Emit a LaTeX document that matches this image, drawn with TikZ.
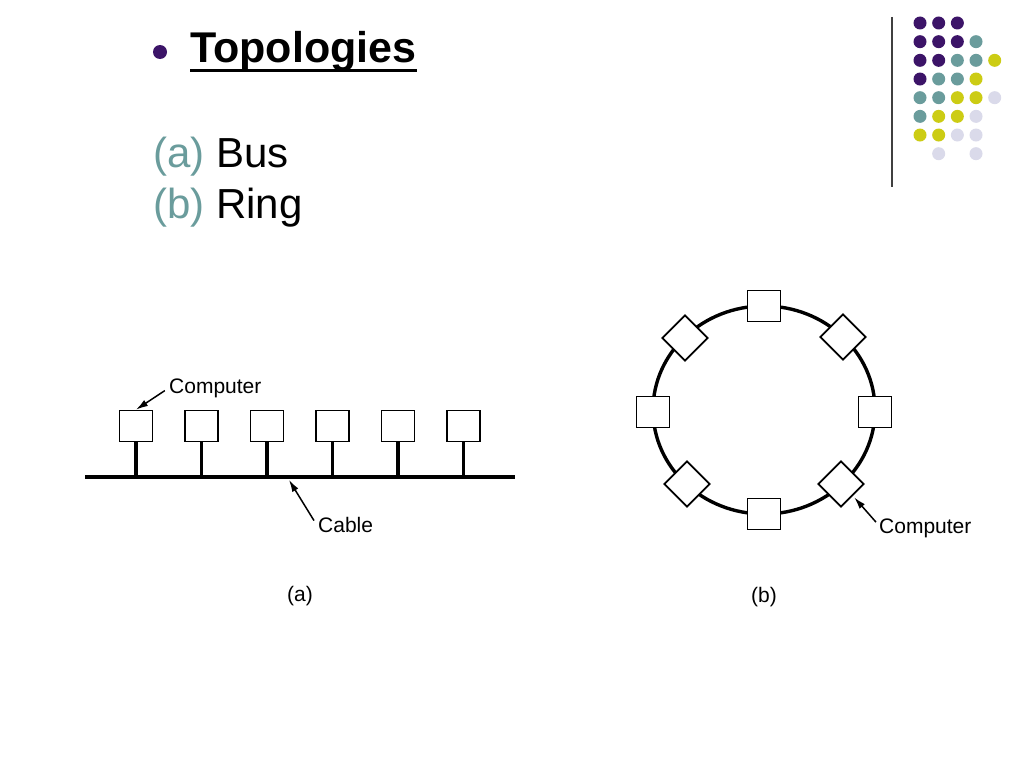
\documentclass[tikz,border=0pt]{standalone}
\usepackage{fontspec}
\setmainfont{Liberation Sans}
\usetikzlibrary{positioning,arrows.meta}

\definecolor{dpurple}{HTML}{3C1468}
\definecolor{dteal}{HTML}{6A9C9C}
\definecolor{dyellow}{HTML}{CCCC14}
\definecolor{dlav}{HTML}{DADAEA}

\tikzset{
  comp/.style={draw, fill=white, line width=1.7pt, minimum width=33pt,
               minimum height=31pt, inner sep=0pt},
  diam/.style={comp, rotate=45, minimum width=32pt, minimum height=32pt},
  wire/.style={line width=3.4pt},
  tag/.style={font=\fontsize{21}{25}\selectfont, inner sep=0pt},
  ptr/.style={-{Latex[length=12pt,width=7pt]}, line width=1.5pt},
  big/.style={font=\fontsize{42}{50}\selectfont, inner sep=0pt}
}

\begin{document}
\begin{tikzpicture}[x=1pt, y=-1pt]

  \useasboundingbox (0,0) rectangle (1024,768);
  \fill[white] (0,0) rectangle (1024,768);

  % Title and items
  \fill[dpurple] (160,52) circle (7pt);
  \node[big, anchor=base west, font=\fontsize{43}{50}\bfseries] (ttl) at (190,63) {Topologies};
  \draw[line width=3pt] ([yshift=-7pt]ttl.base west) -- ([yshift=-7pt]ttl.base east);
  \node[big, anchor=base west] (ia) at (153,167) {\textcolor{dteal}{(a)} Bus};
  \node[big, anchor=base west] (ib) at (153,218) {\textcolor{dteal}{(b)} Ring};

  % Corner dots
  \draw[line width=1.3pt, black!75] (892,17) -- (892,187);
  \foreach \c/\r/\col in {0/0/dpurple,1/0/dpurple,2/0/dpurple,
      0/1/dpurple,1/1/dpurple,2/1/dpurple,3/1/dteal,
      0/2/dpurple,1/2/dpurple,2/2/dteal,3/2/dteal,4/2/dyellow,
      0/3/dpurple,1/3/dteal,2/3/dteal,3/3/dyellow,
      0/4/dteal,1/4/dteal,2/4/dyellow,3/4/dyellow,4/4/dlav,
      0/5/dteal,1/5/dyellow,2/5/dyellow,3/5/dlav,
      0/6/dyellow,1/6/dyellow,2/6/dlav,3/6/dlav,
      1/7/dlav,3/7/dlav}
    \fill[\col] (920+18.67*\c, 23+18.67*\r) circle (6.5pt);

  % Bus
  \coordinate (cl) at (85,477);
  \coordinate (cr) at (515,477);
  \node[comp]                     (c1) at (136,426) {};
  \node[comp, right=30.8pt of c1] (c2) {};
  \node[comp, right=30.8pt of c2] (c3) {};
  \node[comp, right=30.8pt of c3] (c4) {};
  \node[comp, right=30.8pt of c4] (c5) {};
  \node[comp, right=30.8pt of c5] (c6) {};
  \draw[wire] (cl) -- (cr);
  \draw[wire] (c1.south) -- (c1.south |- cl);
  \draw[wire] (c2.south) -- (c2.south |- cl);
  \draw[wire] (c3.south) -- (c3.south |- cl);
  \draw[wire] (c4.south) -- (c4.south |- cl);
  \draw[wire] (c5.south) -- (c5.south |- cl);
  \draw[wire] (c6.south) -- (c6.south |- cl);

  \node[tag, anchor=base west] (lb) at (169,393) {Computer};
  \draw[ptr, shorten <=5pt] (lb.west) -- (c1.north);
  \node[tag, anchor=base west] (lc) at (318,532) {Cable};
  \coordinate (cp) at (289,480);
  \draw[ptr] ([xshift=-4pt,yshift=-4pt]lc.north west) -- (cp);
  \node[tag] (la) at (300,596) {(a)};

  % Ring
  \coordinate (rc) at (764,410);
  \draw[wire] (rc) ellipse [x radius=111pt, y radius=104pt];
  \node[comp] (rn)  at (764,306) {};
  \node[diam] (rne) at (843,337) {};
  \node[comp] (re)  at (875,412) {};
  \node[diam] (rse) at (841,484) {};
  \node[comp] (rs)  at (764,514) {};
  \node[diam] (rsw) at (687,484) {};
  \node[comp] (rw)  at (653,412) {};
  \node[diam] (rnw) at (685,338) {};

  \node[tag, anchor=base west] (lr) at (879,533) {Computer};
  \draw[ptr, shorten >=2pt] ([xshift=-3pt,yshift=-4pt]lr.north west) -- (rse.south);
  \node[tag] (lbr) at (764,597) {(b)};

\end{tikzpicture}
\end{document}
